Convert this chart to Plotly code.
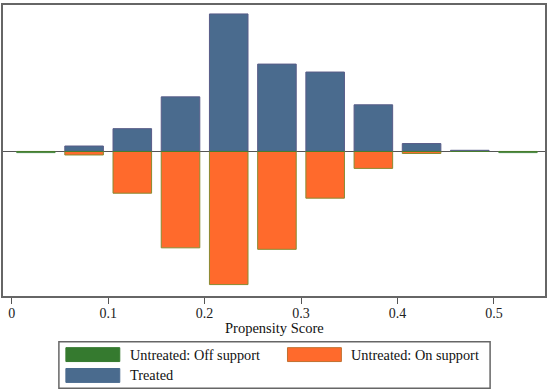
import plotly.graph_objects as go

# Bin centres of the propensity score histogram
bin_centers = [0.025, 0.075, 0.125, 0.175, 0.225, 0.275, 0.325, 0.375, 0.425, 0.475, 0.525]
# Relative bar heights (arbitrary units)
treated = [0, 5.5, 23, 55, 138.5, 88, 80, 47, 8, 1.2, 0]
untreated_on = [0, 3.5, 42, 97, 134, 98.5, 47, 17, 2, 0, 0]
untreated_off = [1.2, 0, 0, 0, 0, 0, 0, 0, 0, 0, 1.2]

tick_vals = [0, 0.1, 0.2, 0.3, 0.4, 0.5]
tick_text = ["0", "0.1", "0.2", "0.3", "0.4", "0.5"]

FONT = "Liberation Serif"
BLUE = "#4a6b8e"
BLUE_EDGE = "#585c88"
ORANGE = "#ff6a2c"
ORANGE_EDGE = "#8a8a30"
GREEN = "#357a2f"

BAR_W = 0.04

# plot-area pixel geometry
PL, PR, PT, PB = 3, 546, 3, 296

fig = go.Figure()
fig.add_trace(go.Bar(x=bin_centers, y=treated, width=BAR_W, name="Treated",
                     marker=dict(color=BLUE, line=dict(color=BLUE_EDGE, width=1)),
                     showlegend=False))
fig.add_trace(go.Bar(x=bin_centers, y=[-v for v in untreated_on], width=BAR_W,
                     name="Untreated: On support",
                     marker=dict(color=ORANGE, line=dict(color=ORANGE_EDGE, width=1)),
                     showlegend=False))
fig.add_trace(go.Bar(x=bin_centers, y=[-v for v in untreated_off], width=BAR_W,
                     name="Untreated: Off support",
                     marker=dict(color=GREEN, line=dict(color=GREEN, width=0.5)),
                     showlegend=False))

fig.update_layout(
    width=550, height=392,
    margin=dict(l=PL, r=550 - PR, t=PT, b=392 - PB),
    paper_bgcolor="white", plot_bgcolor="white",
    barmode="overlay",
    font=dict(family=FONT, size=14, color="#222"),
    xaxis=dict(range=[-0.0091, 0.553], tickvals=tick_vals, ticktext=tick_text,
               ticks="outside", ticklen=6, tickcolor="#555", tickwidth=1,
               ticklabelstandoff=-3,
               showgrid=False, zeroline=False,
               showline=True, linecolor="#666", linewidth=2, mirror=True,
               tickfont=dict(family=FONT, size=14)),
    yaxis=dict(range=[-145.5, 147.5], showticklabels=False, ticks="",
               showgrid=False, zeroline=True, zerolinecolor="#555", zerolinewidth=1,
               showline=True, linecolor="#666", linewidth=2, mirror=True),
)

# Manual legend box (positions in figure pixels converted to plot-area paper coords)
def px_x(p):
    return (p - PL) / (PR - PL)

def px_y(p):
    return (PB - p) / (PB - PT)

# axis title
fig.add_annotation(xref="paper", yref="paper", x=px_x(275), y=px_y(328),
                   text="Propensity Score", showarrow=False, xanchor="center", yanchor="middle",
                   font=dict(family=FONT, size=14.5, color="#111"))

fig.add_shape(type="rect", xref="paper", yref="paper",
              x0=px_x(59), x1=px_x(491), y0=px_y(389), y1=px_y(342),
              line=dict(color="#666", width=1.5), fillcolor="white")
legend_items = [
    ("Untreated: Off support", GREEN, GREEN, 66, 348),
    ("Untreated: On support", ORANGE, "#c07030", 288, 348),
    ("Treated", BLUE, BLUE, 66, 369),
]
for label, col, edge, x0, y0 in legend_items:
    fig.add_shape(type="rect", xref="paper", yref="paper",
                  x0=px_x(x0), x1=px_x(x0 + 54), y0=px_y(y0 + 14), y1=px_y(y0),
                  line=dict(color=edge, width=1), fillcolor=col)
    fig.add_annotation(xref="paper", yref="paper", x=px_x(x0 + 62), y=px_y(y0 + 7),
                       text=label, showarrow=False, xanchor="left", yanchor="middle",
                       font=dict(family=FONT, size=14.3, color="#111"))

fig.write_html("out.html",
               config={"displayModeBar": False},
               post_script="document.body.style.margin='0';document.body.style.overflow='hidden';")
